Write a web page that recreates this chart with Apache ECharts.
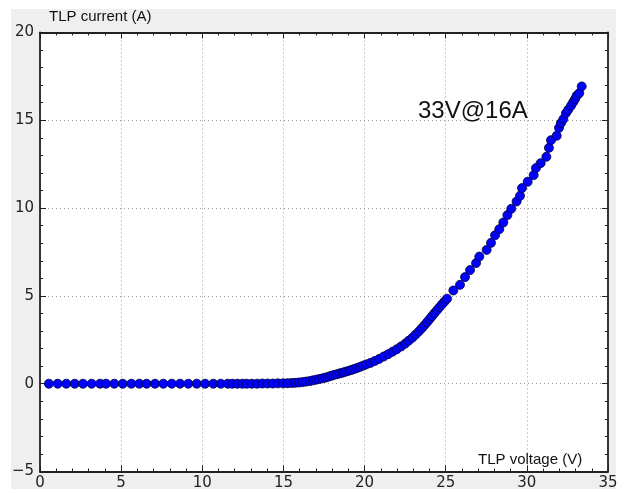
<!DOCTYPE html>
<html>
<head>
<meta charset="utf-8">
<script src="https://cdn.jsdelivr.net/npm/echarts@6/dist/echarts.min.js"></script>
<style>
  html, body { margin: 0; padding: 0; background: #ffffff; }
  #frame { position: absolute; left: 11px; top: 9px; width: 605px; height: 480px; background: #efefef; }
  #chart { position: absolute; left: 0; top: 0; width: 625px; height: 493px; }
</style>
</head>
<body>
<div id="frame"></div>
<div id="chart"></div>
<script>
// TLP measurement: DUT voltage (V) and DUT current (A) per pulse
const voltage = [
  0.55, 1.09, 1.62, 2.14, 2.65, 3.18, 3.70, 4.07, 4.58, 5.10,
  5.63, 6.12, 6.57, 7.09, 7.60, 8.12, 8.63, 9.14, 9.66, 10.17,
  10.68, 11.14, 11.57, 11.85, 12.16, 12.47, 12.74, 13.05, 13.38, 13.70,
  14.02, 14.35, 14.66, 14.98, 15.25, 15.50, 15.72, 15.95, 16.18, 16.40,
  16.62, 16.83, 17.02, 17.22, 17.42, 17.60, 17.78, 17.95, 18.12, 18.30,
  18.48, 18.65, 18.82, 19.00, 19.18, 19.36, 19.55, 19.73, 19.92, 20.10,
  20.35, 20.62, 20.90, 21.18, 21.45, 21.72, 21.98, 22.25, 22.50, 22.72,
  22.95, 23.15, 23.35, 23.52, 23.68, 23.85, 24.00, 24.15, 24.30, 24.46,
  24.62, 24.78, 24.93, 25.08, 25.47, 25.88, 26.19, 26.50, 26.87, 27.07,
  27.52, 27.79, 28.04, 28.30, 28.55, 28.80, 29.04, 29.37, 29.58, 29.70,
  30.05, 30.42, 30.56, 30.85, 31.20, 31.36, 31.49, 31.84, 31.98, 32.10,
  32.25, 32.41, 32.55, 32.72, 32.86, 32.97, 33.07, 33.23, 33.38
];
const current = [
  0, 0, 0, 0, 0, 0, 0, 0, 0, 0,
  0, 0, 0, 0, 0, 0, 0, 0, 0, 0,
  0, 0, 0, 0, 0, 0, 0, 0, 0, 0.01,
  0.01, 0.01, 0.02, 0.02, 0.03, 0.04, 0.05, 0.07, 0.09, 0.12,
  0.15, 0.19, 0.23, 0.27, 0.31, 0.35, 0.40, 0.45, 0.50, 0.54,
  0.59, 0.63, 0.68, 0.73, 0.78, 0.84, 0.90, 0.96, 1.03, 1.10,
  1.18, 1.29, 1.41, 1.55, 1.68, 1.82, 1.96, 2.12, 2.28, 2.45,
  2.62, 2.80, 2.98, 3.15, 3.32, 3.50, 3.67, 3.84, 4.01, 4.18,
  4.36, 4.53, 4.68, 4.84, 5.31, 5.63, 6.07, 6.47, 6.87, 7.24,
  7.62, 8.02, 8.45, 8.80, 9.18, 9.60, 9.96, 10.38, 10.70, 11.14,
  11.50, 11.88, 12.28, 12.56, 12.92, 13.43, 13.87, 14.12, 14.57, 14.84,
  15.07, 15.41, 15.60, 15.83, 16.04, 16.21, 16.40, 16.55, 16.93
];

const xTicks = { min: 0, max: 35, interval: 5 };
const yTicks = { min: -5, max: 20, interval: 5 };

const xTitle = 'TLP voltage (V)';
const yTitle = 'TLP current (A)';
const note = '33V@16A';

const points = voltage.map((v, i) => [v, current[i]]);

const tickFont = { fontFamily: 'DejaVu Sans', fontSize: 15, color: '#222' };
const axisLineStyle = { color: '#222', width: 1.8 };

function axisBase(range, showLabel, showSplit) {
  return {
    type: 'value',
    min: range.min, max: range.max, interval: range.interval,
    axisLine: { show: true, onZero: false, lineStyle: axisLineStyle },
    axisTick: { show: true, inside: true, length: 6, lineStyle: { color: '#222', width: 1 } },
    minorTick: { show: true, splitNumber: 5, length: 3, lineStyle: { color: '#222', width: 1 } },
    splitLine: { show: showSplit, lineStyle: { color: '#9a9a9a', width: 1, type: [1, 3] } },
    axisLabel: showLabel
      ? Object.assign({ show: true, formatter: v => String(v).replace('-', '\u2212') }, tickFont)
      : { show: false }
  };
}

const xBottom = Object.assign(axisBase(xTicks, true, true), { position: 'bottom' });
xBottom.axisLabel.margin = 4;
const xTop = Object.assign(axisBase(xTicks, false, false), { position: 'top' });
const yLeft = Object.assign(axisBase(yTicks, true, true), { position: 'left' });
yLeft.axisLabel.margin = 6;
const yRight = Object.assign(axisBase(yTicks, false, false), { position: 'right' });

const chart = echarts.init(document.getElementById('chart'), null, { renderer: 'canvas' });
chart.setOption({
  backgroundColor: 'transparent',
  animation: false,
  grid: {
    left: 40, right: 17, top: 32.5, bottom: 21.5,
    show: true, backgroundColor: '#ffffff', borderColor: '#222', borderWidth: 0,
    containLabel: false, outerBoundsMode: 'none'
  },
  xAxis: [xBottom, xTop],
  yAxis: [yLeft, yRight],
  series: [{
    type: 'scatter',
    xAxisIndex: 0, yAxisIndex: 0,
    data: points,
    symbol: 'circle',
    symbolSize: 9,
    itemStyle: { color: '#0000ff', borderColor: '#00003c', borderWidth: 0.8, opacity: 1 },
    z: 5
  }],
  graphic: [
    {
      type: 'text', left: 49, top: 9, silent: true,
      style: { text: yTitle, font: '15px "Liberation Sans", Arial, sans-serif', fill: '#111' }
    },
    {
      type: 'text', left: 478, top: 452, silent: true, z: 10,
      style: { text: xTitle, font: '15px "Liberation Sans", Arial, sans-serif', fill: '#111' }
    },
    {
      type: 'text', left: 418, top: 99, silent: true, z: 10,
      style: { text: note, font: '24px "Liberation Sans", Arial, sans-serif', fill: '#111' }
    }
  ]
});
</script>
</body>
</html>
